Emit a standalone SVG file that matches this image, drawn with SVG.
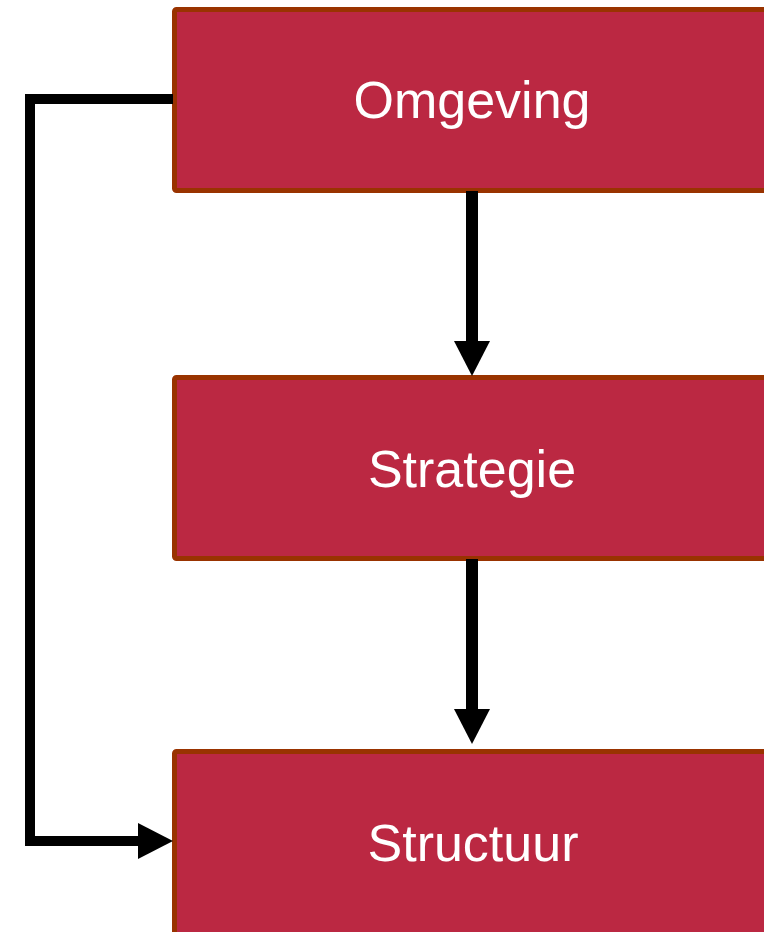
<svg xmlns="http://www.w3.org/2000/svg" width="764" height="932" viewBox="0 0 764 932">
<defs>
<style>
.box{fill:#BB2842;stroke:#993300;stroke-width:5;}
.lbl{fill:#FFFFFF;font-family:"Liberation Sans",Arial,sans-serif;font-size:52px;text-anchor:middle;}
.conn{fill:none;stroke:#000000;stroke-width:12;}
.conn2{fill:none;stroke:#000000;stroke-width:10;stroke-linejoin:miter;}
.head{fill:#000000;}
</style>
</defs>
<rect width="764" height="932" fill="#FFFFFF"/>
<g id="node-omgeving">
<rect class="box" x="174.5" y="9.5" width="700" height="181" rx="2"/>
<text class="lbl" x="472" y="118">Omgeving</text>
</g>
<g id="node-strategie">
<rect class="box" x="174.5" y="377.5" width="700" height="181" rx="2"/>
<text class="lbl" x="472" y="487">Strategie</text>
</g>
<g id="node-structuur">
<rect class="box" x="174.5" y="751.5" width="700" height="183" rx="2"/>
<text class="lbl" x="473" y="861">Structuur</text>
</g>
<g id="connectors">
<path class="conn" d="M472,191 V343"/>
<polygon class="head" points="454,341 490,341 472,376"/>
<path class="conn" d="M472,559 V711"/>
<polygon class="head" points="454,709 490,709 472,744"/>
<path class="conn2" d="M173,99 H30 V841 H140"/>
<polygon class="head" points="138,823 138,859 173,841"/>
</g>
</svg>
